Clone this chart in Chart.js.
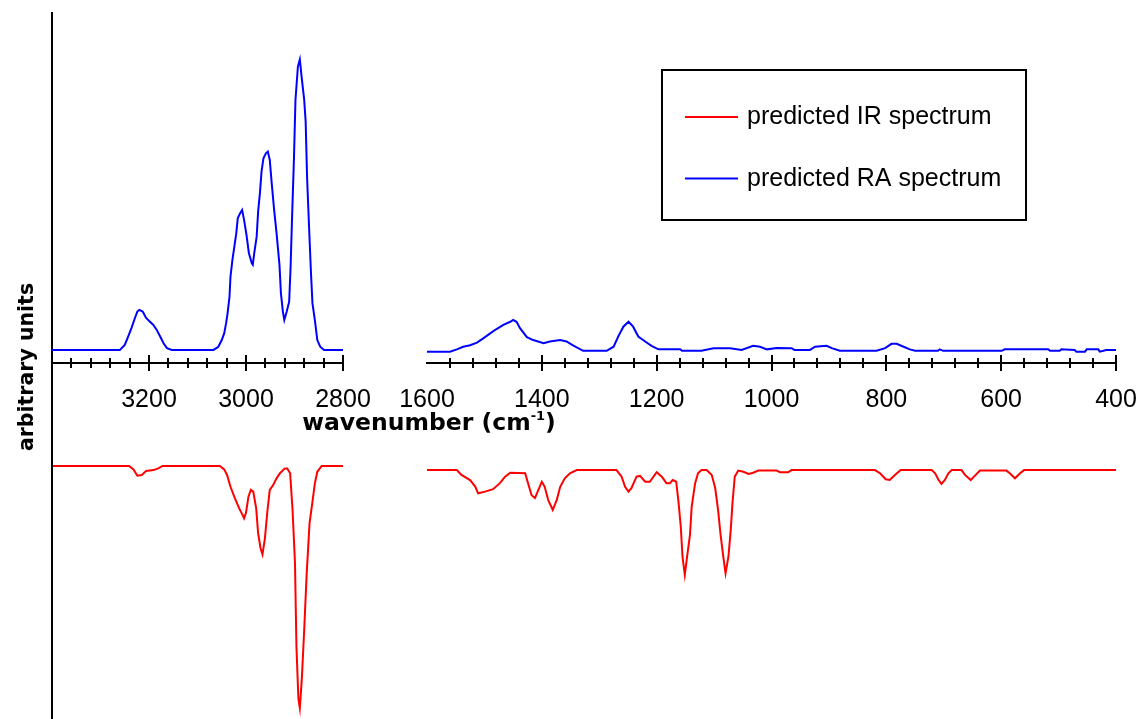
<!DOCTYPE html>
<html>
<head>
<meta charset="utf-8">
<script src="https://cdn.jsdelivr.net/npm/chart.js@4/dist/chart.umd.min.js"></script>
<style>
  body { margin: 0; background: #fff; }
  #wrap { width: 1138px; height: 719px; }
</style>
</head>
<body>
<div id="wrap"><canvas id="spectra" width="1138" height="719"></canvas></div>
<script>
// wavenumbers (cm-1) and relative intensities
// Raman, C-H stretch region
var raHighWn = [3400, 3260, 3250, 3243, 3236, 3229, 3224, 3220, 3213, 3206, 3198, 3191, 3184, 3177, 3170, 3163, 3153, 3067, 3057, 3050,
  3045, 3041, 3038, 3034, 3032, 3028, 3024, 3020, 3017, 3012, 3008, 3004, 2999, 2994, 2988, 2986, 2983, 2978, 2975, 2971,
  2968, 2964, 2959, 2955, 2951, 2947, 2942, 2937, 2931, 2928, 2924, 2921, 2916, 2911, 2908, 2905, 2901, 2898, 2893, 2889,
  2885, 2880, 2877, 2874, 2870, 2866, 2863, 2858, 2853, 2847, 2839, 2800];
var raHighVal = [0, 0, 1.7, 4.6, 7.6, 11.0, 13.2, 13.8, 13.2, 11.0, 9.7, 8.6, 6.9, 4.6, 2.3, 0.6, 0, 0, 1.1, 3.4,
  5.7, 9.2, 12.6, 18.3, 25.2, 31.0, 35.6, 40.2, 45.3, 47.1, 48.2, 44.8, 39.6, 33.3, 29.8, 29.3, 33.3, 39.0, 47.6, 54.5,
  61.4, 66.0, 67.7, 68.3, 65.4, 57.4, 48.2, 40.2, 29.3, 19.5, 13.2, 10.3, 13.2, 16.6, 28.7, 45.9, 66.5, 86.1, 97.5, 100,
  93.5, 86.1, 78.6, 59.1, 42.4, 26.4, 16.1, 10.3, 3.4, 1.1, 0, 0];

// Raman, fingerprint region
var raLowWn = [1600, 1560, 1548, 1537, 1525, 1513, 1502, 1490, 1479, 1467, 1455, 1450, 1444, 1438, 1426, 1415, 1397, 1386, 1368, 1357,
  1345, 1328, 1287, 1275, 1267, 1258, 1249, 1241, 1232, 1220, 1209, 1197, 1159, 1156, 1122, 1101, 1072, 1052, 1032, 1020,
  1008, 991, 965, 960, 933, 924, 904, 895, 881, 817, 802, 791, 782, 770, 759, 750, 710, 707, 701, 599,
  594, 518, 515, 498, 495, 472, 469, 454, 451, 431, 428, 417, 400];
var raLowVal = [-0.6, -0.6, 0.2, 1.1, 1.6, 2.5, 4.0, 5.7, 7.2, 8.6, 9.7, 10.3, 9.7, 7.5, 4.4, 3.4, 2.3, 2.9, 3.4, 2.9,
  1.5, -0.3, -0.3, 1.1, 4.6, 8.0, 9.7, 8.0, 4.6, 2.9, 1.4, 0.2, 0.2, -0.3, -0.3, 0.6, 0.6, 0, 1.4, 1.1,
  0.2, 0.7, 0.6, 0, 0, 1.1, 1.4, 0.6, -0.3, -0.3, 0.6, 2.1, 2.1, 1.1, 0.2, -0.3, -0.3, 0.2, -0.3, -0.3,
  0.2, 0.2, -0.3, -0.3, 0.2, 0, -0.6, -0.6, 0.2, 0.2, -0.6, 0, 0];

// IR, C-H stretch region (absorbance, drawn downwards)
var irHighWn = [3400, 3241, 3232, 3224, 3215, 3206, 3191, 3181, 3172, 3054, 3045, 3039, 3032, 3023, 3014, 3009, 3004, 3000, 2995, 2990,
  2985, 2979, 2975, 2970, 2966, 2961, 2956, 2951, 2944, 2937, 2930, 2920, 2915, 2909, 2904, 2899, 2896, 2892, 2889, 2885,
  2880, 2875, 2869, 2863, 2858, 2853, 2844, 2800];
var irHighVal = [0, 0, 1.4, 4.0, 3.7, 2.1, 1.7, 1.0, 0, 0, 1.4, 3.7, 8.6, 13.3, 17.5, 19.5, 21.6, 19.3, 12.7, 9.9,
  10.6, 17.5, 27.8, 34.0, 36.5, 29.9, 18.9, 9.9, 7.9, 5.1, 3.0, 1.0, 1.0, 3.0, 18.2, 40.2, 74.7, 96.0, 100, 88.4,
  67.8, 45.0, 23.7, 14.8, 7.2, 2.4, 0, 0];

// IR, fingerprint region
var irLowWn = [1600, 1548, 1540, 1525, 1516, 1511, 1499, 1485, 1473, 1464, 1455, 1429, 1424, 1418, 1412, 1406, 1400, 1395, 1389, 1381,
  1374, 1368, 1360, 1351, 1339, 1270, 1261, 1255, 1249, 1244, 1235, 1229, 1220, 1212, 1200, 1191, 1183, 1177, 1172, 1166,
  1162, 1158, 1155, 1151, 1147, 1142, 1139, 1133, 1128, 1122, 1113, 1104, 1098, 1093, 1089, 1084, 1080, 1075, 1071, 1068,
  1064, 1058, 1049, 1040, 1032, 1023, 991, 985, 971, 965, 820, 811, 801, 794, 785, 775, 721, 715, 709, 704,
  698, 692, 686, 669, 663, 653, 646, 637, 591, 585, 576, 567, 560, 400];
var irLowVal = [1.7, 1.7, 3.7, 5.8, 8.5, 11.3, 10.6, 9.6, 7.1, 4.4, 2.8, 3.0, 7.1, 12.0, 13.3, 9.9, 6.5, 8.6, 14.0, 18.2,
  14.0, 8.6, 5.1, 3.0, 1.7, 1.7, 4.4, 8.6, 10.6, 9.2, 4.4, 4.1, 6.5, 6.5, 2.6, 4.4, 7.1, 7.1, 5.8, 6.5,
  14.8, 25.1, 37.5, 45.0, 37.5, 28.5, 16.8, 7.1, 3.0, 1.7, 1.7, 3.7, 9.2, 18.2, 27.8, 37.5, 44.3, 37.5, 26.4, 15.4,
  4.4, 1.9, 2.4, 3.3, 2.8, 1.9, 1.9, 2.6, 2.6, 1.7, 1.7, 3.0, 5.5, 5.8, 3.7, 1.7, 1.7, 3.0, 5.8, 7.4,
  5.8, 3.0, 1.7, 1.7, 3.7, 5.8, 4.1, 1.9, 1.9, 3.0, 5.1, 3.0, 1.7, 1.7];

var seriesLabels = ["predicted IR spectrum", "predicted RA spectrum"];
var seriesColors = ["#ff0000", "#0000ff"];
var highRange = [2800, 3400];
var lowRange = [400, 1600];
var tickStep = 40;
var labelStep = 200;

function pts(wn, val) {
  return wn.map(function (w, i) { return { x: w, y: val[i] }; });
}

function series(label, color, wn, val, xId, yId) {
  return {
    label: label, data: pts(wn, val), xAxisID: xId, yAxisID: yId,
    borderColor: color, borderWidth: 2, pointRadius: 0, tension: 0, fill: false, clip: false
  };
}

var tickFont = { family: "Liberation Sans", size: 25 };

function wnAxis(range, weight) {
  return {
    type: 'linear', position: 'bottom', stack: 'wn', stackWeight: weight,
    min: range[0], max: range[1], reverse: true,
    // grid hidden; tickLength only spaces the labels (marks drawn in decor)
    grid: { display: false, drawTicks: true, tickLength: 22 },
    border: { display: true, color: '#000', width: 2 },
    ticks: {
      stepSize: tickStep, maxTicksLimit: 100, autoSkip: false, maxRotation: 0, minRotation: 0,
      padding: 0, color: '#000', font: tickFont,
      callback: function (v) {
        // no label where the axis meets the intensity axis
        return (v % labelStep === 0 && v !== highRange[1]) ? String(v) : '';
      }
    },
    afterFit: function (s) {
      // panels sit side by side, so end labels need no extra room
      s.paddingLeft = 0;
      s.paddingRight = 0;
    }
  };
}

// extra drawing: crossing tick marks, titles, framed legend
var decor = {
  id: 'decor',
  afterDraw: function (chart) {
    var ctx = chart.ctx;
    var area = chart.chartArea;
    ctx.save();
    ctx.strokeStyle = '#000';
    ctx.fillStyle = '#000';
    ctx.lineWidth = 2;

    // intensity axis carries on through the IR half
    ctx.beginPath();
    ctx.moveTo(area.left, area.bottom);
    ctx.lineTo(area.left, chart.height);
    ctx.stroke();

    ['xHigh', 'xLow'].forEach(function (id) {
      var s = chart.scales[id];
      s.ticks.forEach(function (t) {
        if (t.value === s.max) return;
        var x = Math.round(s.getPixelForValue(t.value));
        var len = t.value % labelStep === 0 ? 8 : 5;
        ctx.beginPath();
        ctx.moveTo(x, s.top - len);
        ctx.lineTo(x, s.top + len);
        ctx.stroke();
      });
    });

    // x title with superscript
    var big = 'bold 23.5px "DejaVu Sans"', small = 'bold 13px "DejaVu Sans"';
    ctx.textBaseline = 'alphabetic';
    ctx.textAlign = 'left';
    ctx.font = big;
    var w1 = ctx.measureText('wavenumber (cm').width, w3 = ctx.measureText(')').width;
    ctx.font = small;
    var w2 = ctx.measureText('-1').width;
    var x = 429 - (w1 + w2 + w3) / 2, y = 430;
    ctx.font = big;
    ctx.fillText('wavenumber (cm', x, y);
    ctx.font = small;
    ctx.fillText('-1', x + w1, y - 10);
    ctx.font = big;
    ctx.fillText(')', x + w1 + w2, y);

    // y title
    ctx.save();
    ctx.translate(33, 367);
    ctx.rotate(-Math.PI / 2);
    ctx.font = 'bold 20.5px "DejaVu Sans"';
    ctx.textAlign = 'center';
    ctx.fillText('arbitrary units', 0, 0);
    ctx.restore();

    // legend
    ctx.lineWidth = 2;
    ctx.strokeRect(662, 70, 364, 150);
    var seen = [];
    chart.data.datasets.forEach(function (ds) {
      if (seen.indexOf(ds.label) >= 0) return;
      seen.push(ds.label);
      var ly = 117 + (seen.length - 1) * 61.5;
      ctx.strokeStyle = ds.borderColor;
      ctx.beginPath();
      ctx.moveTo(685, ly);
      ctx.lineTo(738, ly);
      ctx.stroke();
      ctx.fillStyle = '#000';
      ctx.font = '25px "Liberation Sans"';
      ctx.textAlign = 'left';
      ctx.fillText(ds.label, 747, ly + 7);
    });
    ctx.restore();
  }
};

var ctx = document.getElementById('spectra');

var spectraChart = new Chart(ctx, {
  type: 'line',
  data: {
    datasets: [
      series(seriesLabels[0], seriesColors[0], irHighWn, irHighVal, 'xHigh', 'yIR'),
      series(seriesLabels[0], seriesColors[0], irLowWn, irLowVal, 'xLow', 'yIR'),
      series(seriesLabels[1], seriesColors[1], raHighWn, raHighVal, 'xHigh', 'yRA'),
      series(seriesLabels[1], seriesColors[1], raLowWn, raLowVal, 'xLow', 'yRA')
    ]
  },
  options: {
    responsive: false,
    animation: false,
    events: [],
    layout: { padding: { top: 13, left: 52, right: 22, bottom: 304 } },
    plugins: { legend: { display: false }, tooltip: { enabled: false } },
    scales: {
      xHigh: wnAxis(highRange, 291),
      xGap: {
        type: 'linear', position: 'bottom', stack: 'wn', stackWeight: 84, min: 0, max: 1,
        grid: { display: false, drawTicks: false }, border: { display: false }, ticks: { display: false }
      },
      xLow: wnAxis(lowRange, 689),
      yRA: {
        type: 'linear', position: 'left', min: -4.5, max: 116,
        grid: { display: false, drawTicks: false }, ticks: { display: false },
        border: { display: true, color: '#000', width: 2 }
      },
      yIR: { type: 'linear', display: false, reverse: true, min: -187.2, max: -42.56 }
    }
  },
  plugins: [decor]
});
</script>
</body>
</html>
